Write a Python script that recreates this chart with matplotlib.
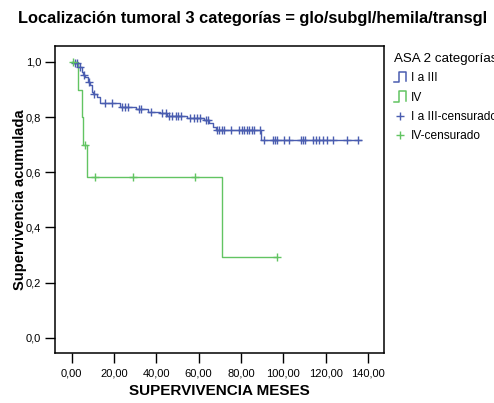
import matplotlib
matplotlib.use('Agg')
import matplotlib.pyplot as plt
from matplotlib.lines import Line2D
from matplotlib.legend_handler import HandlerBase
from matplotlib.ticker import FuncFormatter

plt.rcParams['font.family'] = ['Liberation Sans', 'DejaVu Sans']

# Kaplan-Meier steps: (time, survival after the step)
blue_t = [0, 0.6, 3.1, 4.7, 5.5, 6.3, 7.9, 8.6, 9.4, 10.2, 11.8, 13.4, 22.9, 30.5, 36.0,
          41.5, 45.0, 54.5, 62.4, 65.1, 66.7, 68.3, 89.5, 136.8]
blue_s = [1.0, 0.995, 0.983, 0.965, 0.953, 0.947, 0.929, 0.917, 0.892, 0.883, 0.874, 0.850,
          0.836, 0.829, 0.820, 0.815, 0.806, 0.796, 0.790, 0.778, 0.766, 0.754, 0.716, 0.716]
green_t = [0, 3.1, 4.7, 5.5, 7.1, 70.9, 97.0]
green_s = [1.0, 0.90, 0.80, 0.70, 0.584, 0.292, 0.292]

# censored observations
blue_ct = [1.5, 2.5, 4.0, 6.0, 8.0, 10.5, 15.8, 19.0, 24.0, 25.0, 26.7, 31.8, 32.9, 37.3,
           42.9, 44.5, 46.0, 47.6, 49.2, 50.0, 51.5, 56.0, 57.6, 59.2, 60.8, 63.5, 64.3,
           68.5, 69.8, 70.9, 72.0, 75.3, 79.2, 80.3, 81.4, 82.7, 83.9, 85.1, 86.2, 89.0,
           91.0, 95.0, 96.1, 97.2, 100.3, 102.8, 108.2, 109.1, 110.3, 114.2, 115.5, 116.9,
           118.6, 120.5, 123.3, 130.0, 135.5]
green_ct = [0.5, 6.3, 11.0, 28.8, 58.3, 97.0]

blue_col = '#4a5db0'
green_col = '#62c462'


def surv_at(ts, ss, t):
    val = ss[0]
    for ti, si in zip(ts, ss):
        if ti <= t:
            val = si
    return val


class StepHandler(HandlerBase):
    def create_artists(self, legend, orig_handle, xdescent, ydescent, width, height, fontsize, trans):
        w, h = width, height * 1.3
        x0, y0 = -xdescent, -ydescent - 0.15 * height
        xs = [x0, x0 + 0.4 * w, x0 + 0.4 * w, x0 + w, x0 + w]
        ys = [y0, y0, y0 + h, y0 + h, y0 + 0.1 * h]
        ln = Line2D(xs, ys, color=orig_handle.get_color(), lw=1.1, transform=trans)
        return [ln]


fig = plt.figure(figsize=(4.94, 4.03), dpi=100)
ax = fig.add_axes([55 / 494, 50 / 403, 329 / 494, 307 / 403])

l1, = ax.step(blue_t, blue_s, where='post', color=blue_col, lw=1.0)
l2, = ax.step(green_t, green_s, where='post', color=green_col, lw=1.0)
c1, = ax.plot(blue_ct, [surv_at(blue_t, blue_s, t) for t in blue_ct], '+', color=blue_col,
              ms=6, mew=1.0, ls='none')
c2, = ax.plot(green_ct, [surv_at(green_t, green_s, t) for t in green_ct], '+', color=green_col,
              ms=6, mew=1.0, ls='none')

ax.set_xlim(-7.9, 147.6)
ax.set_ylim(-0.055, 1.058)
ax.set_xticks([0, 20, 40, 60, 80, 100, 120, 140])
ax.set_yticks([0, 0.2, 0.4, 0.6, 0.8, 1.0])
ax.xaxis.set_major_formatter(FuncFormatter(lambda v, p: f'{v:.2f}'.replace('.', ',')))
ax.yaxis.set_major_formatter(FuncFormatter(lambda v, p: f'{v:.1f}'.replace('.', ',')))
ax.tick_params(axis='both', direction='out', length=7, width=1, labelsize=8, pad=3)
ax.tick_params(axis='x', pad=4)
for sp in ax.spines.values():
    sp.set_linewidth(1.1)

ax.set_xlabel('SUPERVIVENCIA MESES', fontsize=11, fontweight='bold', labelpad=4)
ax.set_ylabel('Supervivencia acumulada', fontsize=10.6, fontweight='bold', labelpad=-1)
fig.text(253 / 494, 1 - 18 / 403, 'Localización tumoral 3 categorías = glo/subgl/hemila/transgl',
         ha='center', va='center', fontsize=11.8, fontweight='bold')

leg = ax.legend([l1, l2, c1, c2], ['I a III', 'IV', 'I a III-censurado', 'IV-censurado'],
                handler_map={l1: StepHandler(), l2: StepHandler()},
                title='ASA 2 categorías', loc='upper left',
                bbox_to_anchor=(389 / 494, 1 - 48 / 403), bbox_transform=fig.transFigure,
                frameon=False, fontsize=8.6, title_fontsize=9.6, alignment='left',
                handlelength=1.0, handletextpad=0.4, labelspacing=0.62, borderaxespad=0)

fig.savefig('out.png', dpi=100)
